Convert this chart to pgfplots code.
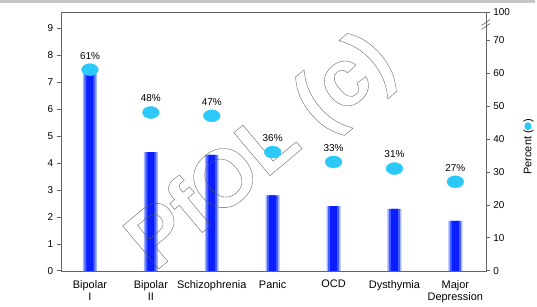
\documentclass[border=0pt]{standalone}
\usepackage{fontspec}
\setmainfont{Liberation Sans}
\newfontfamily\wmfont{Liberation Sans Bold}
\usepackage{pgfplots}
\pgfplotsset{compat=1.18}
\definecolor{barblue}{RGB}{10,30,255}
\definecolor{barmid}{RGB}{70,95,255}
\definecolor{baredge}{RGB}{165,180,255}
\definecolor{ballc}{RGB}{45,200,250}
\definecolor{axgray}{RGB}{100,100,100}
\begin{document}
\begin{tikzpicture}
\pgfplotsset{
  base/.style={width=427pt,height=260pt,scale only axis,
    xmin=-0.48,xmax=6.5,
    axis line style={axgray}, tick style={axgray, line width=0.6pt},
    tick align=outside, major tick length=4pt,
    tick label style={font=\fontsize{10}{11}\selectfont},
    /pgf/number format/assume math mode=true},
}
\begin{axis}[base,
  ymin=0, ymax=9.6, ytick={0,...,9}, ytick pos=left,
  xtick={0,...,6},
  xticklabels={{Bipolar\\I},{Bipolar\\II},Schizophrenia,Panic,OCD,Dysthymia,{Major\\Depression}},
  xticklabel style={align=center, font=\fontsize{11}{12.5}\selectfont, yshift=-2pt},
  x tick style={draw=none},
  ybar, bar shift=0pt,
]
\addplot[draw=none, fill=baredge, bar width=14pt]
  coordinates {(0,7.3) (1,4.4) (2,4.3) (3,2.8) (4,2.4) (5,2.3) (6,1.85)};
\addplot[draw=none, fill=barmid, bar width=11pt]
  coordinates {(0,7.3) (1,4.4) (2,4.3) (3,2.8) (4,2.4) (5,2.3) (6,1.85)};
\addplot[draw=none, fill=barblue, bar width=7pt]
  coordinates {(0,7.3) (1,4.4) (2,4.3) (3,2.8) (4,2.4) (5,2.3) (6,1.85)};
\node[rotate=40, font=\wmfont\fontsize{82}{84}\selectfont, text=black!65] at (rel axis cs:0.475,0.45)
  {\special{pdf:literal direct 1 Tr 0.35 w}PfOL (c)\special{pdf:literal direct 0 Tr}};
\node[rotate=90, font=\fontsize{11.5}{13}\selectfont] at (rel axis cs:-0.105,0.46) {Odds Ratio};
\coordinate (tl) at (rel axis cs:-0.1429,1.0462);
\coordinate (tr) at (rel axis cs:1.1148,1.035);
\coordinate (br) at (rel axis cs:1.1148,-0.1346);
\end{axis}
\begin{axis}[base,
  axis x line=none, axis y line*=right,
  ymin=0, ymax=78.5, ytick={0,10,...,70,78.5}, yticklabels={0,10,20,30,40,50,60,70,100},
  clip=false,
]
\addplot[only marks, color=ballc, mark=*, mark size=6pt, mark options={xscale=1.4, fill=ballc, draw=ballc},
  nodes near coords={\pgfmathprintnumber{\pgfplotspointmeta}\%},
  every node near coord/.append style={anchor=south, yshift=7pt, font=\fontsize{10}{11}\selectfont, text=black},
  point meta=y]
  coordinates {(0,61) (1,48) (2,47) (3,36) (4,33) (5,31) (6,27)};
\draw[axgray, line width=0.6pt] (axis cs:6.43,73.2) -- (axis cs:6.57,75.0);
\draw[axgray, line width=0.6pt] (axis cs:6.43,74.4) -- (axis cs:6.57,76.2);
\node[rotate=90, font=\fontsize{11}{12}\selectfont] at (rel axis cs:1.1007,0.48)
  {Percent (\tikz[baseline=-0.6ex]\fill[ballc] (0,0) ellipse (4pt and 3.6pt);)};
\end{axis}
\fill[gray!45] (tl) rectangle (tr);
\path (tl) rectangle (br);
\end{tikzpicture}
\end{document}
